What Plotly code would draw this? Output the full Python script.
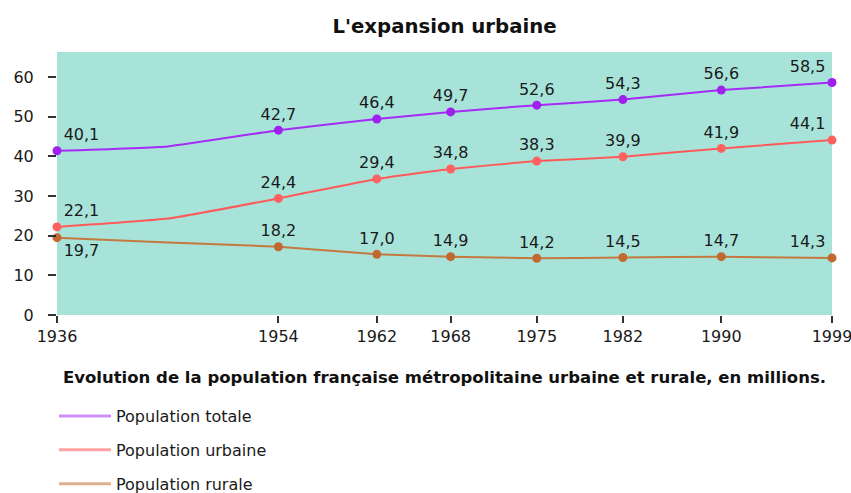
import plotly.graph_objects as go

# ---- data ----
line_years = [1936, 1945, 1954, 1962, 1968, 1975, 1982, 1990, 1999]
total_line = [41.4, 42.5, 46.6, 49.4, 51.2, 52.9, 54.3, 56.7, 58.6]
urban_line = [22.2, 24.3, 29.4, 34.3, 36.8, 38.8, 39.9, 42.0, 44.1]
rural_line = [19.5, 18.3, 17.2, 15.3, 14.7, 14.3, 14.5, 14.7, 14.4]

point_years = [1936, 1954, 1962, 1968, 1975, 1982, 1990, 1999]
total_points = [41.4, 46.6, 49.4, 51.2, 52.9, 54.3, 56.7, 58.6]
urban_points = [22.2, 29.4, 34.3, 36.8, 38.8, 39.9, 42.0, 44.1]
rural_points = [19.5, 17.2, 15.3, 14.7, 14.3, 14.5, 14.7, 14.4]

total_labels = [40.1, 42.7, 46.4, 49.7, 52.6, 54.3, 56.6, 58.5]
urban_labels = [22.1, 24.4, 29.4, 34.8, 38.3, 39.9, 41.9, 44.1]
rural_labels = [19.7, 18.2, 17.0, 14.9, 14.2, 14.5, 14.7, 14.3]

series_names = ["Population totale", "Population urbaine", "Population rurale"]
y_ticks = [0, 10, 20, 30, 40, 50, 60]

FONT = "DejaVu Sans, Verdana, sans-serif"
line_colors = ["#a52cf5", "#ff5a5a", "#c47a3e"]
marker_colors = ["#a020f0", "#ff6060", "#c2692f"]
legend_colors = ["rgba(165,44,245,0.55)", "rgba(255,70,70,0.5)", "rgba(196,110,50,0.55)"]

W, H = 851, 493


def fmt(v):
    return f"{v:.1f}".replace(".", ",")


fig = go.Figure()

lines = [total_line, urban_line, rural_line]
points = [total_points, urban_points, rural_points]
labels = [total_labels, urban_labels, rural_labels]

for i in range(3):
    fig.add_trace(go.Scatter(
        x=line_years, y=lines[i], mode="lines",
        line=dict(color=line_colors[i], width=2, shape="spline", smoothing=0.4),
        showlegend=False, hoverinfo="skip", cliponaxis=False,
    ))

for i in range(3):
    n = len(point_years)
    pos = ["top center"] * n
    pos[0] = "bottom right" if i == 2 else "top right"
    pos[-1] = "top left"
    fig.add_trace(go.Scatter(
        x=point_years, y=points[i], mode="markers+text",
        marker=dict(color=marker_colors[i], size=9),
        text=[fmt(v) for v in labels[i]], textposition=pos,
        textfont=dict(family=FONT, size=16, color="#1a1a1a"),
        name=series_names[i], showlegend=False, cliponaxis=False,
    ))

for i in range(3):
    fig.add_trace(go.Scatter(
        x=[None], y=[None], mode="lines",
        line=dict(color=legend_colors[i], width=3),
        name=series_names[i], legendgroup=f"g{i}", showlegend=True,
    ))

fig.update_layout(
    width=W, height=H,
    margin=dict(l=57, r=19, t=52, b=178, autoexpand=False),
    paper_bgcolor="white",
    plot_bgcolor="#a8e3da",
    font=dict(family=FONT, size=16, color="#1a1a1a"),
    title=dict(text="<b>L'expansion urbaine</b>", x=0.5, xref="paper", xanchor="center",
               y=1 - 26 / H, yanchor="middle", font=dict(family=FONT, size=19.7, color="#111")),
    xaxis=dict(
        range=[1936, 1999], tickvals=point_years, ticktext=[str(y) for y in point_years],
        showgrid=False, zeroline=False, showline=False, automargin=False,
        ticks="outside", ticklen=7, tickwidth=1.5, tickcolor="#333",
        ticklabeloverflow="allow",
        tickfont=dict(family=FONT, size=16, color="#1a1a1a"),
        title=dict(text="<b>Evolution de la population française métropolitaine urbaine et rurale, en millions.</b>",
                   font=dict(family=FONT, size=16.5, color="#111"), standoff=26),
    ),
    yaxis=dict(
        range=[0, 66.3], tickvals=y_ticks,
        showgrid=False, zeroline=False, showline=False, automargin=False,
        ticks="outside", ticklen=8, tickwidth=1.5, tickcolor="#333",
        tickfont=dict(family=FONT, size=16, color="#1a1a1a"),
        ticklabelstandoff=11,
    ),
    legend=dict(
        x=-3 / 775, xanchor="left", y=-0.32, yanchor="top",
        orientation="v", itemwidth=52, tracegroupgap=10,
        font=dict(family=FONT, size=16, color="#1a1a1a"),
        bgcolor="rgba(0,0,0,0)",
    ),
)

fig.write_html(
    "out.html",
    config={"displayModeBar": False},
    post_script="document.body.style.margin='0';document.body.style.overflow='hidden';",
)
